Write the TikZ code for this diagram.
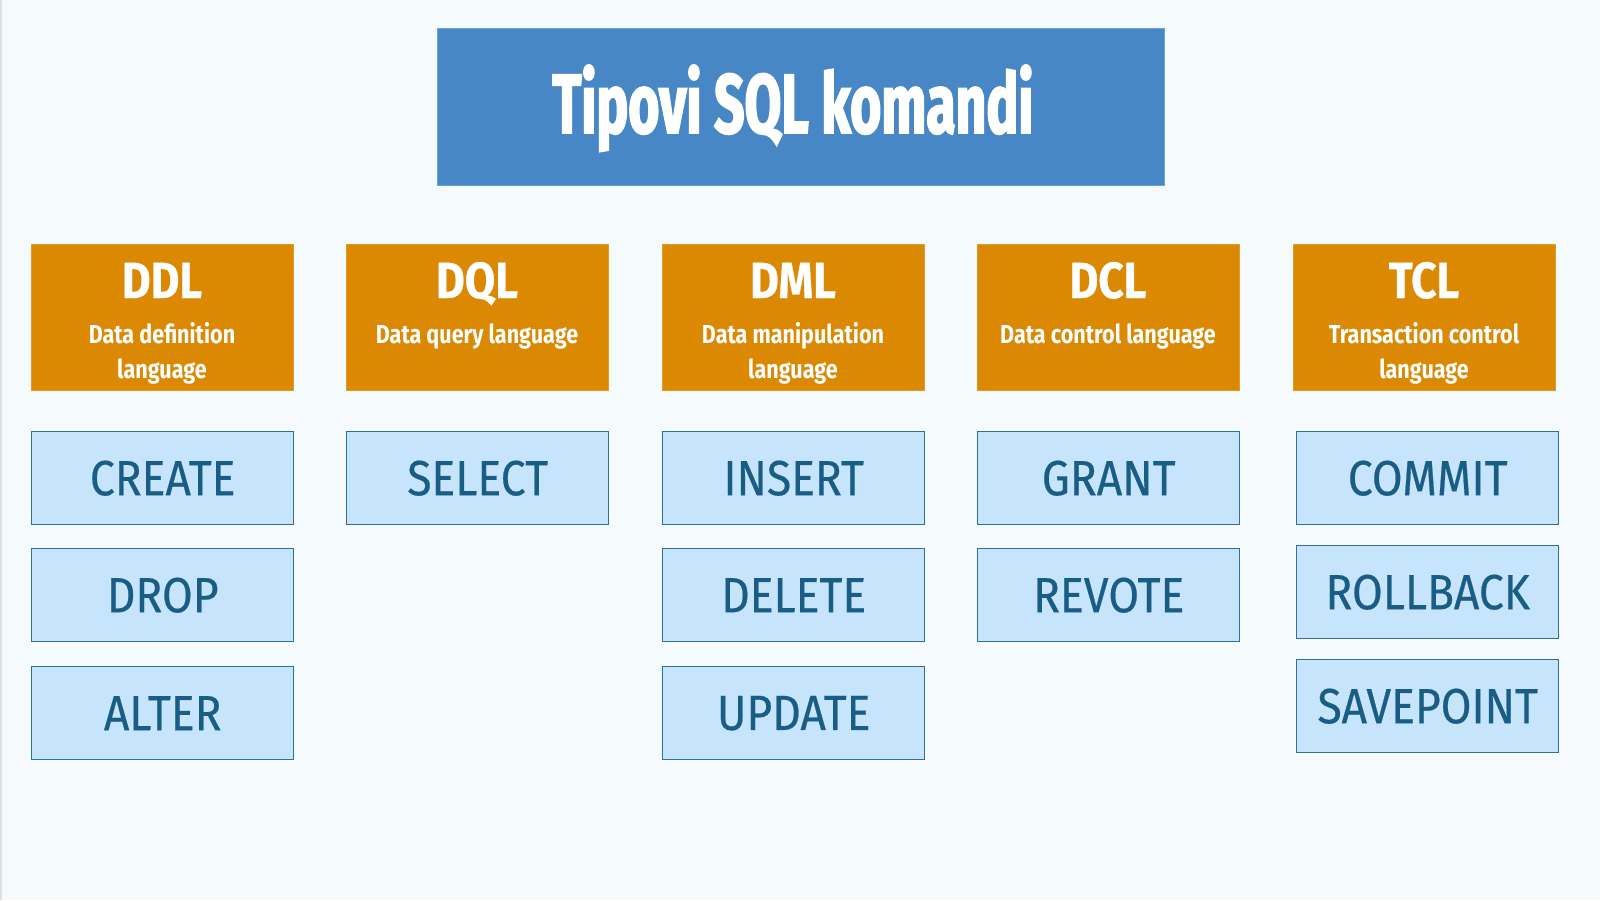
\documentclass[tikz,border=0pt]{standalone}
\usepackage{fontspec}
\setmainfont{Fira Sans}
\newfontfamily\titlef[FakeStretch=0.635, FakeBold=2]{Fira Sans}
\newfontfamily\headf[FakeStretch=0.87, FakeBold=0.6]{Fira Sans}
\newfontfamily\subf[FakeStretch=0.83]{Fira Sans}
\newfontfamily\cmdf[FakeStretch=0.9, FakeBold=0.4]{Fira Sans}
\definecolor{bgcol}{HTML}{F5FAFD}
\definecolor{titlefill}{HTML}{4787C6}
\definecolor{titleborder}{HTML}{6AA3DA}
\definecolor{catfill}{HTML}{DB8903}
\definecolor{cmdfill}{HTML}{C6E4FB}
\definecolor{cmdborder}{HTML}{2F6F9A}
\definecolor{cmdtext}{HTML}{195D84}
\tikzset{
  titlebox/.style={draw=titleborder, fill=titlefill, line width=0.6pt, anchor=north west,
    minimum width=363.5pt, minimum height=78.5pt, inner sep=0pt},
  titletext/.style={anchor=base, text=white, inner sep=0pt,
    font=\titlef\bfseries\fontsize{42}{44}\selectfont},
  catbox/.style={fill=catfill, draw=catfill!85!white, line width=0.5pt, anchor=north west,
    minimum width=131pt, minimum height=73pt, inner sep=0pt},
  cathead/.style={anchor=base, text=white, inner sep=0pt,
    font=\headf\bfseries\fontsize{25.4}{27}\selectfont},
  catsub/.style={anchor=base, text=white, inner sep=0pt,
    font=\subf\bfseries\fontsize{13}{14}\selectfont},
  cmd/.style={draw=cmdborder, fill=cmdfill, line width=0.7pt, anchor=north west,
    minimum width=131pt, minimum height=46.5pt, inner sep=0pt, text=cmdtext,
    font=\cmdf\fontsize{24.7}{26}\selectfont}
}
\begin{document}
\begin{tikzpicture}[x=0.5pt,y=-0.5pt]
\useasboundingbox (0,0) rectangle (1600,900);
\fill[bgcol] (0,0) rectangle (1600,900);
\draw[black!12, line width=1pt] (1,0) -- (1,900);

% title
\node[titlebox] (title) at (437,28) {};
\node[titletext] (titlet) at (793,133) {Tipovi SQL komandi};

% categories
\node[catbox] (ddl) at (31,244) {};
\node[cathead] (ddlh) at (162,298) {DDL};
\node[catsub] (ddls1) at (162,343) {Data definition};
\node[catsub] (ddls2) at (162,378) {language};

\node[catbox] (dql) at (346,244) {};
\node[cathead] (dqlh) at (477,298) {DQL};
\node[catsub] (dqls1) at (477,343) {Data query language};

\node[catbox] (dml) at (662,244) {};
\node[cathead] (dmlh) at (793,298) {DML};
\node[catsub] (dmls1) at (793,343) {Data manipulation};
\node[catsub] (dmls2) at (793,378) {language};

\node[catbox] (dcl) at (977,244) {};
\node[cathead] (dclh) at (1108,298) {DCL};
\node[catsub] (dcls1) at (1108,343) {Data control language};

\node[catbox] (tcl) at (1293,244) {};
\node[cathead] (tclh) at (1424,298) {TCL};
\node[catsub] (tcls1) at (1424,343) {Transaction control};
\node[catsub] (tcls2) at (1424,378) {language};

% commands
\node[cmd] (create) at (31,431) {CREATE};
\node[cmd] (drop) at (31,548) {DROP};
\node[cmd] (alter) at (31,666) {ALTER};

\node[cmd] (select) at (346,431) {SELECT};

\node[cmd] (insert) at (662,431) {INSERT};
\node[cmd] (delete) at (662,548) {DELETE};
\node[cmd] (update) at (662,666) {UPDATE};

\node[cmd] (grant) at (977,431) {GRANT};
\node[cmd] (revote) at (977,548) {REVOTE};

\node[cmd] (commit) at (1296,431) {COMMIT};
\node[cmd] (rollback) at (1296,545) {ROLLBACK};
\node[cmd] (savepoint) at (1296,659) {SAVEPOINT};
\end{tikzpicture}
\end{document}
